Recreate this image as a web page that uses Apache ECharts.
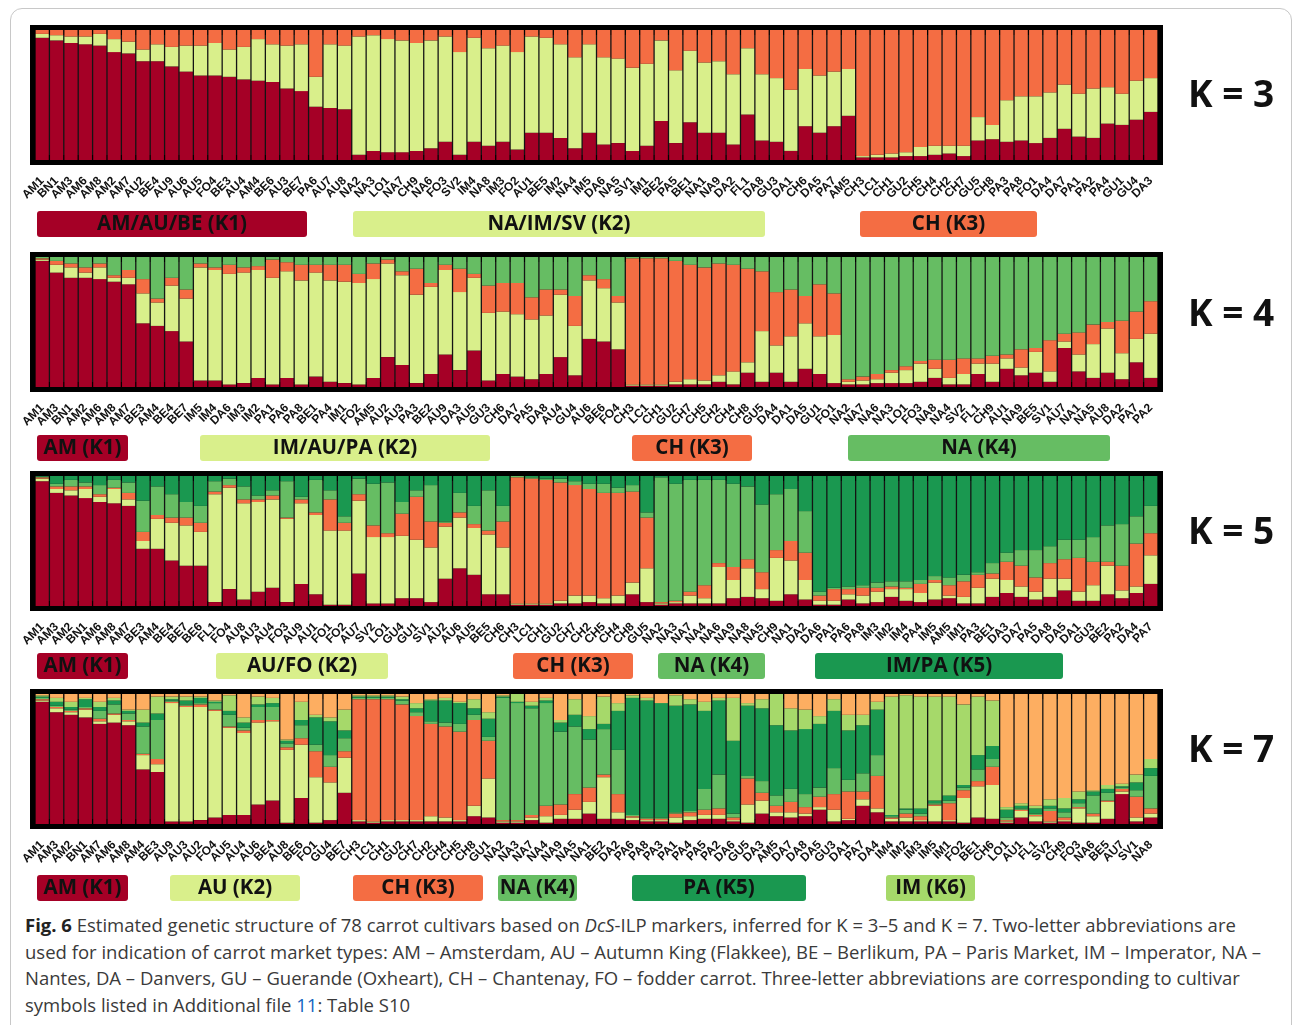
<!DOCTYPE html>
<html>
<head>
<meta charset="utf-8">
<script src="https://cdn.jsdelivr.net/npm/echarts@6/dist/echarts.min.js"></script>
<style>
html,body{margin:0;padding:0;background:#fff;}
#frame{position:absolute;left:10px;top:8px;width:1282px;height:1040px;border:1px solid #c8c8c8;border-radius:12px;box-sizing:border-box;}
#chart{position:absolute;left:0;top:0;width:1295px;height:905px;}
#cap{position:absolute;left:25px;top:912px;width:1265px;font-family:"Open Sans",sans-serif;font-size:18.5px;line-height:26.5px;color:#3a3a3a;white-space:nowrap;}
#cap b{color:#222;}
#cap a{color:#1565c0;text-decoration:none;}
</style>
</head>
<body>
<div id="frame"></div>
<div id="chart"></div>
<div id="cap"><b>Fig. 6</b> Estimated genetic structure of 78 carrot cultivars based on <i>DcS</i>-ILP markers, inferred for K = 3–5 and K = 7. Two-letter abbreviations are<br>used for indication of carrot market types: AM – Amsterdam, AU – Autumn King (Flakkee), BE – Berlikum, PA – Paris Market, IM – Imperator, NA –<br>Nantes, DA – Danvers, GU – Guerande (Oxheart), CH – Chantenay, FO – fodder carrot. Three-letter abbreviations are corresponding to cultivar<br>symbols listed in Additional file <a>11</a>: Table S10</div>
<script>
// ---------- K = 3 ----------
const k3Labels = ['AM1','BN1','AM3','AM6','AM8','AM2','AM7','AU2','BE4','AU9','AU6','AU5','FO4','BE3','AU4','AM4','BE6','AU3','BE7','PA6','AU7','AU8','NA2','NA3','LO1','NA7','CH9','NA6','FO3','SV2','IM4','NA8','IM3','FO2','AU1','BE5','IM2','NA4','IM5','DA6','NA5','SV1','IM1','BE2','PA5','BE1','NA1','NA9','DA2','FL1','DA8','GU3','DA1','CH6','DA5','PA7','AM5','CH3','LC1','CH1','GU2','CH5','CH4','CH2','CH7','GU5','CH8','PA3','PA8','FO1','DA4','DA7','PA1','PA2','PA4','GU1','GU4','DA3'];
const k3K1 = [.94,.92,.90,.89,.88,.83,.82,.76,.76,.72,.68,.65,.65,.64,.62,.61,.60,.55,.53,.41,.40,.39,.04,.07,.06,.06,.07,.09,.14,.04,.14,.11,.14,.08,.21,.21,.17,.09,.21,.12,.13,.07,.11,.30,.13,.29,.21,.21,.12,.35,.15,.14,.07,.26,.21,.26,.34,.02,.02,.02,.03,.03,.04,.05,.03,.15,.16,.14,.15,.13,.17,.24,.18,.17,.28,.27,.31,.37];
const k3K2 = [.03,.04,.05,.06,.09,.10,.09,.09,.13,.15,.20,.23,.25,.21,.25,.32,.29,.33,.36,.23,.49,.49,.91,.89,.87,.86,.83,.83,.81,.79,.80,.75,.74,.75,.74,.73,.72,.70,.68,.67,.65,.64,.63,.62,.56,.55,.54,.55,.54,.51,.51,.49,.47,.44,.44,.42,.36,.01,.02,.03,.03,.07,.07,.06,.08,.18,.11,.32,.34,.36,.35,.34,.33,.38,.28,.24,.30,.26];
const k3K3 = [.03,.04,.05,.05,.03,.07,.09,.15,.11,.13,.12,.12,.10,.15,.13,.07,.11,.12,.11,.36,.11,.12,.05,.04,.07,.08,.10,.08,.05,.17,.06,.14,.12,.17,.05,.06,.11,.21,.11,.21,.22,.29,.26,.08,.31,.16,.25,.24,.34,.14,.34,.37,.46,.30,.35,.32,.30,.97,.96,.95,.94,.90,.89,.89,.89,.67,.73,.54,.51,.51,.48,.42,.49,.45,.44,.49,.39,.37];

// ---------- K = 4 ----------
const k4Labels = ['AM1','AM3','BN1','AM2','AM6','AM8','AM7','BE3','AM4','BE4','BE7','IM5','IM4','DA6','IM3','IM2','PA1','PA6','PA8','BE1','PA4','IM1','FO2','AM5','AU2','AU3','PA3','BE2','AU9','DA3','AU5','GU3','CH6','DA7','PA5','DA8','AU4','GU4','AU6','BE6','FO4','CH3','LC1','CH1','GU2','CH7','CH5','CH2','CH4','CH8','GU5','DA4','DA1','DA5','GU1','FO1','NA2','NA7','NA6','NA3','LO1','FO3','NA8','NA4','SV2','FL1','CH9','AU1','NA9','BE5','SV1','AU7','NA1','NA5','AU8','DA2','PA7','PA2'];
const k4K1 = [.97,.88,.84,.84,.83,.81,.79,.49,.47,.43,.35,.05,.05,.02,.03,.07,.02,.07,.02,.08,.04,.03,.02,.07,.23,.17,.03,.10,.25,.13,.28,.05,.10,.08,.06,.10,.23,.09,.37,.35,.29,.01,.01,.01,.02,.02,.02,.04,.02,.11,.04,.11,.04,.14,.10,.03,.02,.02,.03,.03,.03,.04,.07,.02,.02,.10,.04,.14,.09,.11,.04,.30,.12,.07,.11,.06,.19,.07];
const k4K2 = [.01,.06,.08,.04,.09,.03,.05,.23,.18,.35,.33,.87,.85,.85,.85,.83,.82,.82,.80,.80,.78,.78,.78,.76,.72,.69,.68,.67,.65,.60,.56,.52,.48,.48,.46,.45,.48,.38,.45,.41,.36,.01,.01,.01,.02,.04,.03,.05,.10,.08,.39,.21,.35,.35,.29,.37,.02,.03,.03,.08,.10,.14,.07,.05,.08,.08,.14,.08,.06,.16,.08,.05,.13,.26,.34,.20,.18,.34];
const k4K3 = [.01,.03,.03,.04,.03,.02,.06,.11,.03,.06,.07,.03,.02,.07,.04,.03,.14,.07,.12,.06,.12,.13,.07,.12,.03,.03,.20,.03,.04,.18,.03,.21,.22,.24,.17,.20,.04,.23,.04,.07,.05,.97,.97,.97,.93,.88,.87,.86,.82,.72,.46,.41,.36,.21,.40,.32,.02,.03,.04,.02,.03,.02,.07,.14,.12,.04,.06,.03,.14,.03,.24,.06,.17,.15,.05,.25,.21,.25];
const k4K4 = [.01,.03,.05,.08,.05,.14,.10,.17,.32,.16,.25,.05,.08,.06,.08,.07,.02,.04,.06,.06,.06,.06,.13,.05,.02,.11,.09,.20,.06,.09,.13,.22,.20,.20,.31,.25,.25,.30,.14,.17,.30,.01,.01,.01,.03,.06,.08,.05,.06,.09,.11,.27,.25,.30,.21,.28,.94,.92,.90,.87,.84,.80,.79,.79,.78,.78,.76,.75,.71,.70,.64,.59,.58,.52,.50,.49,.42,.34];

// ---------- K = 5 ----------
const k5Labels = ['AM1','AM3','AM2','BN1','AM6','AM8','AM7','BE3','AM4','BE4','BE7','BE6','FL1','FO4','AU8','AU3','AU4','FO3','AU9','AU1','FO1','FO2','AU7','SV2','LO1','GU4','GU1','SV1','AU2','AU6','AU5','BE5','CH6','CH3','LC1','CH1','GU2','CH7','CH2','CH5','CH4','CH8','GU5','NA2','NA3','NA7','NA4','NA6','NA9','NA8','NA5','CH9','NA1','DA2','DA6','PA1','PA6','PA8','IM3','IM2','IM4','PA4','IM5','AM5','IM1','PA3','BE1','DA3','DA7','PA5','DA8','DA5','DA1','GU3','BE2','PA2','DA4','PA7'];
const k5K1 = [.96,.87,.85,.83,.80,.79,.77,.44,.44,.35,.31,.31,.03,.13,.05,.11,.14,.03,.17,.09,.01,.01,.25,.02,.02,.06,.06,.03,.21,.29,.24,.09,.09,.01,.01,.01,.02,.02,.03,.02,.02,.09,.03,.01,.02,.02,.02,.02,.06,.07,.06,.04,.09,.05,.01,.01,.05,.02,.03,.07,.04,.03,.05,.06,.02,.02,.07,.10,.07,.05,.07,.12,.04,.04,.09,.06,.10,.17];
const k5K2 = [.02,.03,.04,.07,.04,.11,.05,.06,.23,.29,.31,.26,.83,.78,.74,.69,.68,.64,.62,.61,.57,.57,.56,.51,.51,.48,.45,.42,.40,.39,.36,.46,.36,.01,.01,.01,.02,.06,.05,.04,.06,.09,.26,.01,.01,.06,.04,.28,.14,.22,.07,.33,.26,.15,.03,.03,.04,.06,.08,.06,.09,.07,.13,.02,.05,.12,.14,.10,.08,.06,.14,.09,.07,.12,.22,.06,.05,.22];
const k5K3 = [.01,.02,.03,.02,.02,.01,.05,.07,.03,.04,.06,.07,.02,.02,.03,.02,.03,.01,.03,.02,.24,.06,.05,.09,.03,.17,.33,.20,.03,.04,.03,.03,.20,.97,.96,.95,.91,.85,.82,.81,.79,.70,.39,.01,.01,.03,.10,.03,.10,.07,.13,.06,.15,.21,.04,.09,.04,.06,.03,.02,.01,.07,.02,.08,.12,.10,.04,.14,.16,.11,.12,.15,.26,.18,.03,.19,.33,.17];
const k5K4 = [.005,.02,.05,.03,.07,.06,.08,.24,.22,.18,.12,.13,.08,.05,.10,.03,.04,.28,.02,.25,.07,.05,.12,.32,.39,.09,.05,.28,.01,.15,.14,.31,.12,.01,.01,.01,.03,.03,.04,.07,.04,.05,.04,.96,.90,.86,.81,.64,.64,.56,.52,.43,.40,.32,.03,.01,.02,.02,.04,.04,.05,.03,.03,.06,.05,.02,.08,.07,.12,.21,.13,.15,.14,.19,.28,.32,.21,.21];
const k5K5 = [.005,.06,.03,.05,.07,.03,.05,.19,.08,.14,.20,.23,.04,.02,.08,.15,.11,.04,.16,.03,.11,.31,.02,.06,.05,.20,.11,.07,.35,.13,.23,.11,.23,0,.01,.02,.02,.04,.06,.06,.09,.07,.28,.01,.06,.03,.03,.03,.06,.08,.22,.14,.10,.27,.89,.86,.85,.84,.82,.81,.81,.80,.77,.78,.76,.74,.67,.59,.57,.57,.54,.49,.49,.47,.38,.37,.31,.23];

// ---------- K = 7 ----------
const k7Labels = ['AM1','AM3','AM2','BN1','AM7','AM6','AM8','AM4','BE3','AU9','AU3','AU2','FO4','AU5','AU4','AU6','BE4','AU8','BE6','FO1','GU4','BE7','CH3','LC1','CH1','GU2','CH7','CH2','CH4','CH5','CH8','GU1','NA2','NA3','NA7','NA4','NA9','NA5','NA1','BE2','DA2','PA6','PA8','PA3','PA1','PA4','PA5','PA2','DA6','GU5','DA3','AM5','DA7','DA8','DA5','GU3','DA1','PA7','DA4','IM4','IM2','IM3','IM5','IM1','FO2','BE1','CH6','LO1','AU1','FL1','SV2','CH9','FO3','NA6','BE5','AU7','SV1','NA8'];
const k7K1 = [.94,.86,.84,.82,.77,.78,.76,.42,.40,.02,.02,.03,.05,.07,.07,.15,.18,.01,.20,.01,.03,.24,.02,.01,.02,.02,.02,.02,.02,.02,.06,.05,.01,.01,.03,.01,.04,.04,.08,.04,.04,.03,.02,.02,.01,.03,.04,.04,.02,.01,.08,.06,.05,.06,.11,.02,.03,.14,.09,.02,.02,.02,.02,.02,.01,.05,.04,.01,.05,.02,.01,.02,.01,.01,.04,.23,.02,.05];
const k7K2 = [.01,.03,.02,.06,.02,.06,.03,.11,.06,.91,.88,.87,.82,.67,.63,.63,.61,.56,.41,.35,.29,.27,.01,.01,.01,.01,.01,.04,.03,.01,.08,.30,.01,.01,.02,.05,.03,.07,.09,.32,.05,.02,.01,.01,.04,.03,.03,.03,.01,.14,.10,.03,.04,.02,.02,.09,.01,.05,.03,.02,.03,.01,.12,.01,.19,.24,.26,.01,.05,.04,.01,.01,.11,.05,.13,.02,.03,.03];
const k7K3 = [.01,.01,.01,.01,.02,.01,.01,.01,.04,.01,.01,.02,.01,.01,.02,.02,.01,.02,.05,.20,.12,.05,.93,.94,.93,.89,.80,.71,.70,.68,.66,.29,.01,.01,.02,.08,.08,.12,.11,.02,.14,.01,.01,.01,.03,.03,.04,.05,.02,.20,.06,.05,.08,.05,.08,.12,.21,.06,.25,.01,.03,.03,.01,.13,.06,.04,.14,.01,.01,.01,.08,.02,.01,.02,.01,.02,.16,.04];
const k7K4 = [.01,.01,.01,.01,.06,.07,.05,.21,.30,.01,.01,.01,.05,.09,.02,.10,.10,.03,.10,.05,.09,.10,.01,.01,.01,.03,.03,.02,.03,.06,.04,.03,.94,.90,.82,.79,.56,.52,.37,.35,.34,.01,.01,.01,.01,.01,.16,.26,.03,.02,.09,.08,.10,.10,.07,.20,.09,.14,.16,.01,.03,.02,.01,.02,.02,.09,.06,.02,.01,.01,.02,.04,.03,.14,.06,.01,.05,.25];
const k7K5 = [.01,.03,.02,.06,.03,.03,.02,.03,.05,.01,.03,.04,.01,.03,.04,.02,.03,.02,.04,.21,.26,.06,.01,.01,.01,.01,.03,.16,.17,.16,.05,.14,.01,.01,.02,.02,.07,.09,.08,.04,.30,.90,.90,.88,.82,.82,.60,.57,.56,.54,.56,.54,.45,.50,.49,.44,.38,.37,.35,.01,.01,.04,.02,.04,.02,.11,.10,.06,.02,.04,.02,.03,.03,.03,.03,.01,.06,.06];
const k7K6 = [.01,.03,.04,.01,.04,.02,.01,.10,.13,.02,.03,.01,.01,.12,.04,.06,.04,.01,.14,.02,.03,.16,.01,.01,.01,.02,.04,.01,.02,.01,.07,.05,.01,.06,.03,.02,.02,.12,.10,.21,.06,.02,.02,0,.08,.04,.07,.02,.33,.02,.07,.24,.17,.15,.06,.09,.12,.08,.06,.91,.87,.86,.80,.76,.62,.45,.35,.02,.02,.02,.05,.08,.06,.01,.03,.02,.06,.07];
const k7K7 = [.01,.03,.06,.03,.06,.03,.12,.12,.02,.02,.02,.02,.05,.01,.18,.02,.03,.35,.06,.16,.18,.12,.01,.01,.01,.02,.07,.04,.03,.06,.04,.14,.01,0,.06,.03,.20,.04,.17,.02,.07,.01,.03,.07,.01,.04,.06,.03,.03,.07,.04,0,.11,.12,.17,.04,.16,.16,.06,.02,.01,.02,.02,.02,.08,.02,.05,.87,.84,.86,.81,.80,.75,.74,.70,.69,.62,.50];

// ---------- group captions ----------
const k3Groups = ['AM/AU/BE (K1)','NA/IM/SV (K2)','CH (K3)'];
const k4Groups = ['AM (K1)','IM/AU/PA (K2)','CH (K3)','NA (K4)'];
const k5Groups = ['AM (K1)','AU/FO (K2)','CH (K3)','NA (K4)','IM/PA (K5)'];
const k7Groups = ['AM (K1)','AU (K2)','CH (K3)','NA (K4)','PA (K5)','IM (K6)'];
const panelTitles = ['K = 3','K = 4','K = 5','K = 7'];

// ---------- styling / layout ----------
const C = {red:'#a50026', lg:'#d9ef8b', or:'#f46d43', mg:'#66bd63', dg:'#1a9850', yg:'#a6d96a', lo:'#fdae61'};
const panels = [
  {labels:k3Labels, data:[k3K1,k3K2,k3K3], colors:[C.red,C.lg,C.or], top:30,
   groups:k3Groups, boxes:[[37,307,C.red],[353,765,C.lg],[860,1037,C.or]], boxY:211, titleY:96},
  {labels:k4Labels, data:[k4K1,k4K2,k4K3,k4K4], colors:[C.red,C.lg,C.or,C.mg], top:257,
   groups:k4Groups, boxes:[[37,128,C.red],[200,490,C.lg],[632,752,C.or],[848,1110,C.mg]], boxY:435, titleY:315},
  {labels:k5Labels, data:[k5K1,k5K2,k5K3,k5K4,k5K5], colors:[C.red,C.lg,C.or,C.mg,C.dg], top:476,
   groups:k5Groups, boxes:[[37,128,C.red],[216,388,C.lg],[513,633,C.or],[658,765,C.mg],[815,1063,C.dg]], boxY:653, titleY:533},
  {labels:k7Labels, data:[k7K1,k7K2,k7K3,k7K4,k7K5,k7K6,k7K7], colors:[C.red,C.lg,C.or,C.mg,C.dg,C.yg,C.lo], top:694,
   groups:k7Groups, boxes:[[37,128,C.red],[170,300,C.lg],[353,483,C.or],[498,577,C.mg],[632,806,C.dg],[886,975,C.yg]], boxY:875, titleY:751}
];

const grids=[], xAxes=[], yAxes=[], series=[], graphics=[];
panels.forEach((p,i)=>{
  grids.push({left:35, width:1123, top:p.top, height:130, show:true,
    backgroundColor:'#141414', borderColor:'#000', borderWidth:10, containLabel:false});
  xAxes.push({type:'category', gridIndex:i, data:p.labels,
    axisLine:{show:false}, axisTick:{show:false},
    axisLabel:{interval:0, rotate:45, margin:19, fontSize:12, fontWeight:'bold',
      fontFamily:'Liberation Sans', color:'#111'}});
  yAxes.push({type:'value', gridIndex:i, min:0, max:1, show:false, splitLine:{show:false}});
  p.data.forEach((arr,j)=>{
    series.push({type:'bar', xAxisIndex:i, yAxisIndex:i, stack:'s'+i, data:arr,
      barCategoryGap:'9%', itemStyle:{color:p.colors[j]}, silent:true, animation:false});
  });
  p.boxes.forEach((b,k)=>{
    graphics.push({type:'rect', shape:{x:b[0], y:p.boxY, width:b[1]-b[0], height:26, r:3},
      style:{fill:b[2]}});
    graphics.push({type:'text', x:(b[0]+b[1])/2, y:p.boxY+13,
      style:{text:p.groups[k], fill:'#111', font:'bold 20.5px "Open Sans"',
        textAlign:'center', textVerticalAlign:'middle'}});
  });
  graphics.push({type:'text', x:1231, y:p.titleY,
    style:{text:panelTitles[i], fill:'#111', font:'bold 37px "Open Sans"',
      textAlign:'center', textVerticalAlign:'middle'}});
});

const chart = echarts.init(document.getElementById('chart'), null, {renderer:'canvas'});
chart.setOption({animation:false, grid:grids, xAxis:xAxes, yAxis:yAxes, series:series, graphic:graphics});
</script>
</body>
</html>
